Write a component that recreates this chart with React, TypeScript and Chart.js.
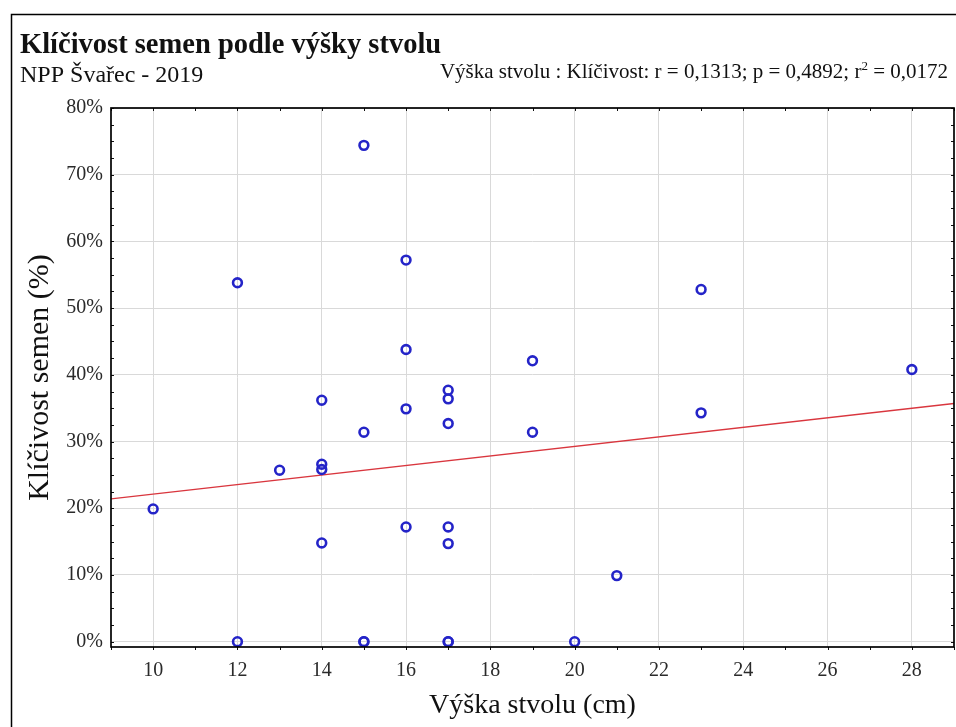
import React, { useEffect, useRef } from "react";
import { Chart, registerables } from "chart.js";

Chart.register(...registerables);

// ---- data ----
const HEIGHT_CM = [10, 12, 12, 13, 14, 14, 14, 14, 15, 15, 15, 15, 16, 16, 16, 16, 17, 17, 17, 17, 17, 17, 17, 19, 19, 20, 21, 23, 23, 28];
const GERMINATION_PCT = [19.9, 0, 53.8, 25.7, 36.2, 26.6, 25.8, 14.8, 74.4, 31.4, 0, 0, 57.2, 43.8, 34.9, 17.2, 37.7, 36.4, 32.7, 17.2, 14.7, 0, 0, 42.1, 31.4, 0, 9.9, 52.8, 34.3, 40.8];
const TREND_X = [9, 29];
const TREND_Y = [21.4, 35.7];

const X_TICKS = [10, 12, 14, 16, 18, 20, 22, 24, 26, 28];
const Y_TICKS = [0, 10, 20, 30, 40, 50, 60, 70, 80];
const X_MIN = 9;
const X_MAX = 29;
const Y_MIN = -0.8;
const Y_MAX = 80;
const X_MINOR_STEP = 1;
const Y_MINOR_STEP = 2.5;

const TITLE = "Klíčivost semen podle výšky stvolu";
const SUBTITLE = "NPP Švařec - 2019";
const STATS_MAIN = "Výška stvolu : Klíčivost: r = 0,1313; p = 0,4892; r";
const STATS_SUP = "2";
const STATS_END = " = 0,0172";
const X_TITLE = "Výška stvolu (cm)";
const Y_TITLE = "Klíčivost semen (%)";

const FONT = '"Liberation Serif", "Times New Roman", serif';

const decorPlugin = {
  id: "decor",
  afterDraw(chart: any) {
    const { ctx, chartArea: a, scales } = chart;
    const xs = scales.x;
    const ys = scales.y;
    ctx.save();
    // outer frame
    ctx.strokeStyle = "#000";
    ctx.lineWidth = 1.5;
    ctx.beginPath();
    ctx.moveTo(11.5, 730);
    ctx.lineTo(11.5, 14.5);
    ctx.lineTo(960, 14.5);
    ctx.stroke();

    // small ticks on all four sides
    ctx.lineWidth = 1;
    ctx.strokeStyle = "#111";
    ctx.beginPath();
    for (let v = X_MIN; v <= X_MAX + 1e-9; v += X_MINOR_STEP) {
      const px = Math.round(xs.getPixelForValue(v)) + 0.5;
      ctx.moveTo(px, a.bottom);
      ctx.lineTo(px, a.bottom + 3);
      ctx.moveTo(px, a.top);
      ctx.lineTo(px, a.top + 3);
    }
    for (let v = 0; v <= Y_MAX + 1e-9; v += Y_MINOR_STEP) {
      const py = Math.round(ys.getPixelForValue(v)) + 0.5;
      ctx.moveTo(a.left, py);
      ctx.lineTo(a.left + 3, py);
      ctx.moveTo(a.right, py);
      ctx.lineTo(a.right - 3, py);
    }
    ctx.stroke();

    // plot border
    ctx.lineWidth = 1.7;
    ctx.strokeStyle = "#000";
    ctx.strokeRect(a.left, a.top, a.right - a.left, a.bottom - a.top);

    // header texts
    ctx.fillStyle = "#111";
    ctx.textBaseline = "alphabetic";
    ctx.textAlign = "left";
    ctx.font = `bold 28.5px ${FONT}`;
    ctx.fillText(TITLE, 20, 53);
    ctx.font = `24px ${FONT}`;
    ctx.fillText(SUBTITLE, 20, 82);

    const mainFont = `21px ${FONT}`;
    const supFont = `13px ${FONT}`;
    ctx.font = mainFont;
    const wMain = ctx.measureText(STATS_MAIN).width;
    const wEnd = ctx.measureText(STATS_END).width;
    ctx.font = supFont;
    const wSup = ctx.measureText(STATS_SUP).width;
    const right = 948;
    let x = right - (wMain + wSup + wEnd);
    const base = 78;
    ctx.font = mainFont;
    ctx.fillText(STATS_MAIN, x, base);
    x += wMain;
    ctx.font = supFont;
    ctx.fillText(STATS_SUP, x, base - 8);
    x += wSup;
    ctx.font = mainFont;
    ctx.fillText(STATS_END, x, base);
    ctx.restore();
  },
};

export default function App() {
  const ref = useRef<HTMLCanvasElement | null>(null);

  useEffect(() => {
    if (!ref.current) return;
    const chart = new Chart(ref.current, {
      type: "scatter",
      data: {
        datasets: [
          {
            label: "Klíčivost",
            data: HEIGHT_CM.map((x, i) => ({ x, y: GERMINATION_PCT[i] })),
            pointStyle: "circle",
            pointRadius: 4.4,
            pointBorderWidth: 2.6,
            borderColor: "#2424c8",
            backgroundColor: "rgba(255,255,255,0)",
            showLine: false,
            order: 1,
          },
          {
            label: "trend",
            data: TREND_X.map((x, i) => ({ x, y: TREND_Y[i] })),
            showLine: true,
            pointRadius: 0,
            borderColor: "#d9363e",
            borderWidth: 1.3,
            backgroundColor: "#d9363e",
            order: 2,
          },
        ],
      },
      options: {
        responsive: false,
        animation: false,
        devicePixelRatio: 1,
        layout: { autoPadding: false, padding: { top: 108, right: 2, left: 0, bottom: 0 } },
        plugins: {
          legend: { display: false },
          tooltip: { enabled: false },
          title: { display: false },
        },
        scales: {
          x: {
            type: "linear",
            min: X_MIN,
            max: X_MAX,
            afterBuildTicks: (s: any) => {
              s.ticks = X_TICKS.map((value) => ({ value }));
            },
            afterFit: (s: any) => {
              s.height = 80;
              s.paddingLeft = 0;
              s.paddingRight = 0;
            },
            grid: { color: "#d9d9d9", lineWidth: 1, drawTicks: false },
            border: { display: false },
            ticks: {
              padding: 12,
              color: "#2a2a2a",
              maxRotation: 0,
              autoSkip: false,
              font: { family: FONT, size: 20 },
            },
            title: {
              display: true,
              text: X_TITLE,
              color: "#111",
              font: { family: FONT, size: 28 },
              padding: { top: 0, bottom: 5 },
            },
          },
          y: {
            type: "linear",
            min: Y_MIN,
            max: Y_MAX,
            afterBuildTicks: (s: any) => {
              s.ticks = Y_TICKS.map((value) => ({ value }));
            },
            afterFit: (s: any) => {
              s.width = 111;
              s.paddingTop = 0;
              s.paddingBottom = 0;
            },
            grid: { color: "#d9d9d9", lineWidth: 1, drawTicks: false },
            border: { display: false },
            ticks: {
              padding: 8,
              color: "#2a2a2a",
              autoSkip: false,
              font: { family: FONT, size: 20 },
              callback: (v: any) => `${v}%`,
            },
            title: {
              display: true,
              text: Y_TITLE,
              color: "#111",
              font: { family: FONT, size: 30 },
              padding: { top: 22, bottom: 0 },
            },
          },
        },
      },
      plugins: [decorPlugin],
    });
    return () => chart.destroy();
  }, []);

  return (
    <div style={{ position: "absolute", left: 0, top: 0, width: 956, height: 727, background: "#fff" }}>
      <canvas ref={ref} width={956} height={727} style={{ display: "block", width: 956, height: 727 }} />
    </div>
  );
}
